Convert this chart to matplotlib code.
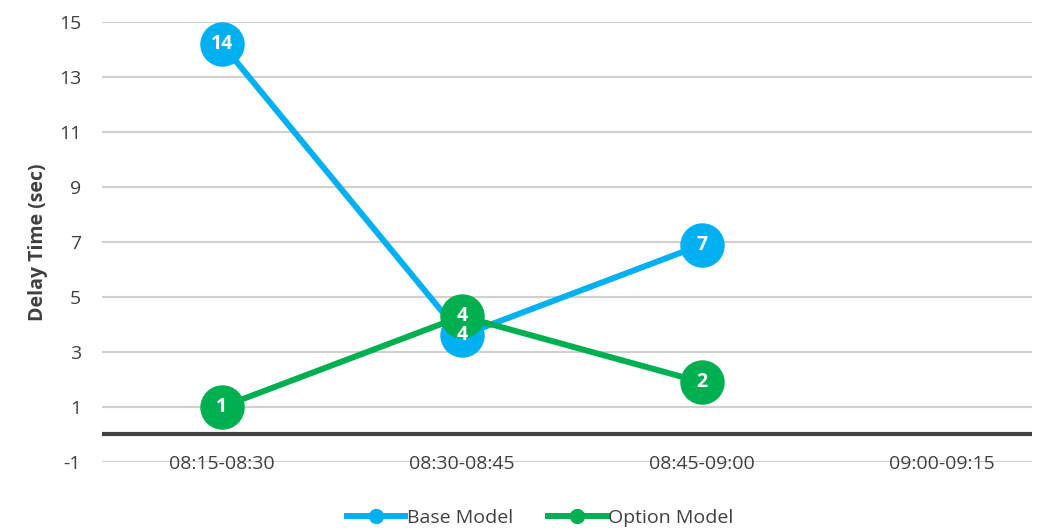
import matplotlib
matplotlib.use("Agg")
import matplotlib.pyplot as plt

plt.rcParams['font.family'] = ['Open Sans', 'DejaVu Sans']
plt.rcParams['axes.unicode_minus'] = False

periods = ['08:15-08:30', '08:30-08:45', '08:45-09:00', '09:00-09:15']
base_model = [14.2, 3.6, 6.9]
option_model = [1.0, 4.3, 1.9]
yticks = [-1, 1, 3, 5, 7, 9, 11, 13, 15]

blue = '#00B0F0'
green = '#00B050'
text_gray = '#404040'

fig = plt.figure(figsize=(10.39, 5.31), dpi=100)
ax = fig.add_axes([0.098, 0.130, 0.895, 0.8286])

# gridlines
for y in yticks:
    ax.axhline(y, color='#d0d0d0', lw=1.5, zorder=0)
ax.axhline(0, color='#404040', lw=3, zorder=1)

series = [('Base Model', base_model, blue), ('Option Model', option_model, green)]
for i, (name, vals, col) in enumerate(series):
    xs = list(range(len(vals)))
    ax.plot(xs, vals, color=col, lw=4.3, marker='o', markersize=32,
            markeredgewidth=0, zorder=3 + i, label=name)
    for x, v in zip(xs, vals):
        ax.text(x, v, f"{round(v):.0f}", color='white', fontsize=14,
                fontweight='bold', ha='center', va='center', zorder=10)

ax.set_xlim(-0.5, 3.375)
ax.set_ylim(-1, 15)
ax.set_xticks(range(len(periods)))
ax.set_xticklabels(periods, fontsize=14.5)
ax.set_yticks(yticks)
ax.tick_params(length=0, labelsize=14, colors=text_gray)
ax.tick_params(axis='x', pad=-5)
ax.tick_params(axis='y', pad=15)
for s in ax.spines.values():
    s.set_visible(False)
ax.set_ylabel('Delay Time (sec)', fontsize=14, fontweight='bold', color=text_gray, labelpad=8)

handles = [plt.Line2D([0], [0], color=c, lw=4.3, marker='o', markersize=10) for _, _, c in series]
fig.legend(handles, [n for n, _, _ in series], loc='lower center', ncol=2,
           bbox_to_anchor=(0.52, -0.025), frameon=False, fontsize=14,
           handlelength=3, columnspacing=1.8, handletextpad=0.1, labelcolor=text_gray)

fig.savefig('out.png', dpi=100)
